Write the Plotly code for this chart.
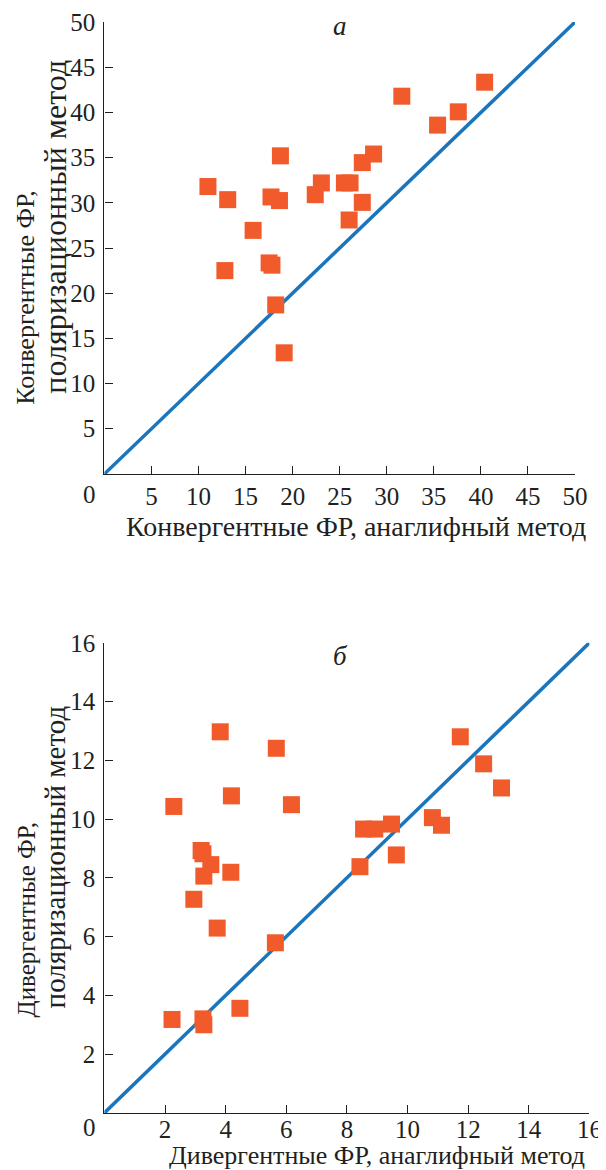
import plotly.graph_objects as go

# ---- data: panel a (convergent) ----
conv_anaglyph = [40.4, 31.6, 37.6, 35.4, 18.7, 28.6, 27.4, 11.0, 23.05, 22.4, 25.5, 26.1,
                 13.1, 17.7, 18.6, 27.4, 26.0, 15.8, 17.5, 17.8, 12.8, 18.2, 19.1]
conv_polar = [43.35, 41.8, 40.07, 38.6, 35.2, 35.4, 34.45, 31.8, 32.2, 30.9, 32.2, 32.2,
              30.35, 30.65, 30.25, 30.05, 28.1, 26.95, 23.35, 23.1, 22.5, 18.7, 13.4]
conv_diag = [0, 50]
conv_ticks = [5, 10, 15, 20, 25, 30, 35, 40, 45, 50]

# ---- data: panel б (divergent) ----
div_anaglyph = [3.82, 5.67, 11.74, 12.51, 13.1, 2.29, 4.19, 6.17, 8.55, 8.92, 9.47, 10.82,
                11.12, 9.63, 8.43, 3.19, 3.25, 3.51, 3.28, 4.17, 2.95, 3.72, 5.64, 2.23,
                3.25, 3.28, 4.47]
div_polar = [12.97, 12.41, 12.8, 11.88, 11.06, 10.43, 10.79, 10.49, 9.66, 9.66, 9.83, 10.05,
             9.79, 8.78, 8.38, 8.93, 8.82, 8.45, 8.06, 8.19, 7.27, 6.29, 5.79, 3.18,
             3.2, 3.0, 3.56]
div_diag = [0, 16]
div_ticks = [2, 4, 6, 8, 10, 12, 14, 16]

W, H = 606, 1170
ORANGE = "#F15A2B"
BLUE = "#1B75BC"
TXT = "#231F20"
FONT = "Liberation Serif, Times New Roman, serif"

# empirical correction from target-pixel positions to page positions
def px(x):
    return ((x - 8.0) / 0.979) / W

def py(y):
    return 1 - ((y - 21.6) / 0.9878) / H

fig = go.Figure()
fig.add_trace(go.Scatter(x=conv_diag, y=conv_diag, mode="lines",
                         line=dict(color=BLUE, width=3.5), xaxis="x", yaxis="y",
                         showlegend=False, hoverinfo="skip"))
fig.add_trace(go.Scatter(x=conv_anaglyph, y=conv_polar, mode="markers",
                         marker=dict(symbol="square", size=17, color=ORANGE),
                         xaxis="x", yaxis="y", showlegend=False, cliponaxis=False))
fig.add_trace(go.Scatter(x=div_diag, y=div_diag, mode="lines",
                         line=dict(color=BLUE, width=3.5), xaxis="x2", yaxis="y2",
                         showlegend=False, hoverinfo="skip"))
fig.add_trace(go.Scatter(x=div_anaglyph, y=div_polar, mode="markers",
                         marker=dict(symbol="square", size=17, color=ORANGE),
                         xaxis="x2", yaxis="y2", showlegend=False, cliponaxis=False))

axis_common = dict(showline=True, linecolor=TXT, linewidth=1.3, ticks="inside",
                   ticklen=8, tickwidth=1.3, tickcolor=TXT, showgrid=False,
                   zeroline=False, tickfont=dict(family=FONT, size=25, color=TXT),
                   mirror=False, fixedrange=True)

fig.update_layout(
    width=W, height=H, margin=dict(l=0, r=0, t=0, b=0),
    paper_bgcolor="white", plot_bgcolor="white",
    xaxis=dict(domain=[px(104.3), px(574.3)], range=[0, 50], tickvals=conv_ticks,
               anchor="y", **axis_common),
    yaxis=dict(domain=[py(474), py(22.7)], range=[0, 50], tickvals=conv_ticks,
               anchor="x", ticklabelstandoff=3, **axis_common),
    xaxis2=dict(domain=[px(104.3), px(588.7)], range=[0, 16], tickvals=div_ticks,
                anchor="y2", ticklabelstandoff=-6, **axis_common),
    yaxis2=dict(domain=[py(1112.3), py(642.7)], range=[0, 16], tickvals=div_ticks,
                anchor="x2", ticklabelstandoff=3, **axis_common),
)

def ann(text, x, y, size=27, angle=0, italic=False):
    t = f"<i>{text}</i>" if italic else text
    fig.add_annotation(text=t, x=px(x), y=py(y), xref="paper", yref="paper",
                       xanchor="center", yanchor="middle", showarrow=False,
                       textangle=angle,
                       font=dict(family=FONT, size=size, color=TXT))

# panel a texts
ann("а", 340, 27, size=27, italic=True)
ann("0", 89, 495, size=25)
ann("Конвергентные ФР, анаглифный метод", 356, 527, size=28)
ann("Конвергентные ФР,", 26, 298, size=26, angle=-90)
ann("поляризационный метод", 55, 227, size=32, angle=-90)

# panel б texts
ann("б", 340, 656, size=27, italic=True)
ann("0", 89, 1127, size=25)
ann("Дивергентные ФР, анаглифный метод", 377, 1155, size=26)
ann("Дивергентные ФР,", 26, 920, size=25, angle=-90)
ann("поляризационный метод", 55, 857, size=29, angle=-90)

fig.write_html("out.html")
